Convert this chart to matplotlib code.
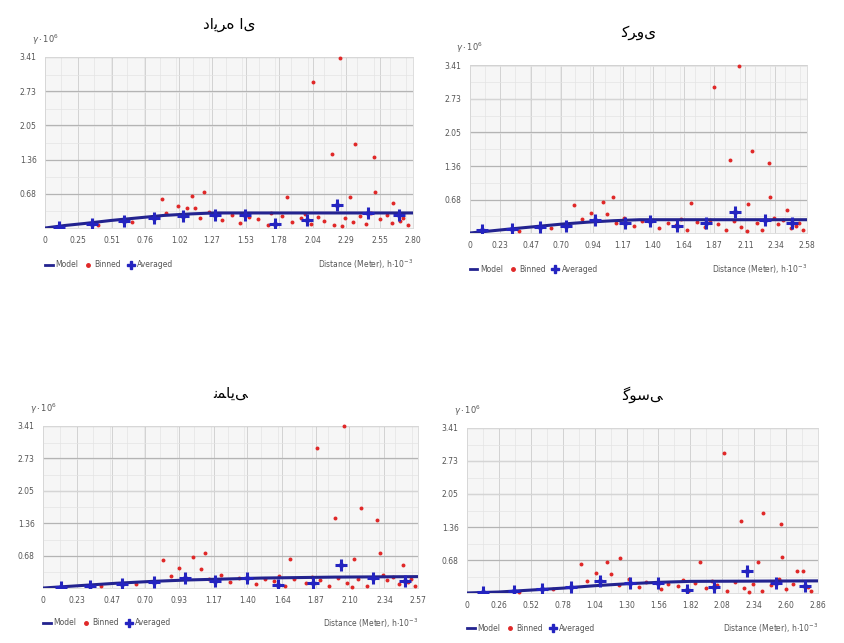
import numpy as np
import matplotlib.pyplot as plt
from matplotlib.lines import Line2D
from matplotlib.ticker import AutoMinorLocator

# titles: Persian, joined presentation forms in logical order
titles = ["\uFEA9\uFE8D\uFEF3\uFEAE\uFEE9 \uFE8D\uFEEF",   # dayere-i
          "\uFEDB\uFEAE\uFEED\uFEEF",                      # korovi
          "\uFEE7\uFEE4\uFE8E\uFEF3\uFEF0",                # nemaei
          "\uFB94\uFEEE\uFEB3\uFEF0"]                      # gausi

y_ticks = [0.68, 1.36, 2.05, 2.73, 3.41]
y_max = 3.41

# --- circular (top left)
tl_xticks = [0, 0.25, 0.51, 0.76, 1.02, 1.27, 1.53, 1.78, 2.04, 2.29, 2.55, 2.80]
tl_model_x = [0, 0.15, 0.3, 0.5, 0.7, 0.9, 1.1, 1.28, 2.80]
tl_model_y = [0, 0.05, 0.09, 0.15, 0.20, 0.25, 0.28, 0.30, 0.30]
tl_avg_x = [0.11, 0.36, 0.60, 0.83, 1.05, 1.29, 1.52, 1.75, 1.99, 2.22, 2.46, 2.69]
tl_avg_y = [0.03, 0.08, 0.13, 0.19, 0.24, 0.26, 0.26, 0.08, 0.16, 0.46, 0.29, 0.26]
tl_bin_x = [2.245, 2.04, 2.18, 2.36, 2.50, 2.51, 2.32, 2.65, 1.84, 0.89, 1.12, 1.21, 1.01,
            1.08, 1.14, 0.40, 0.66, 0.92, 1.18, 1.25, 1.35, 1.42, 1.48, 1.55, 1.62, 1.70,
            1.80, 1.88, 1.95, 2.02, 2.08, 2.12, 2.20, 2.28, 2.34, 2.40, 2.44, 2.55, 2.60,
            2.64, 2.72, 2.76, 1.72, 1.98, 2.26, 2.48, 2.70]
tl_bin_y = [3.39, 2.91, 1.48, 1.67, 1.42, 0.72, 0.62, 0.50, 0.62, 0.58, 0.64, 0.72, 0.44,
            0.40, 0.40, 0.05, 0.12, 0.30, 0.20, 0.32, 0.15, 0.25, 0.10, 0.22, 0.18, 0.06,
            0.24, 0.12, 0.20, 0.08, 0.22, 0.14, 0.06, 0.20, 0.12, 0.24, 0.08, 0.18, 0.26,
            0.10, 0.20, 0.06, 0.30, 0.28, 0.04, 0.30, 0.14]

# --- spherical (top right)
tr_xticks = [0, 0.23, 0.47, 0.70, 0.94, 1.17, 1.40, 1.64, 1.87, 2.11, 2.34, 2.58]
tr_model_x = [0, 0.15, 0.3, 0.5, 0.7, 0.9, 1.1, 1.3, 2.58]
tr_model_y = [0, 0.04, 0.08, 0.13, 0.18, 0.22, 0.25, 0.27, 0.27]
tr_avg_x = [0.09, 0.32, 0.54, 0.74, 0.96, 1.19, 1.38, 1.59, 1.81, 2.03, 2.26, 2.47]
tr_avg_y = [0.06, 0.09, 0.12, 0.14, 0.26, 0.21, 0.24, 0.14, 0.20, 0.43, 0.26, 0.20]
tr_bin_x = [2.06, 1.87, 1.99, 2.16, 2.29, 2.30, 2.13, 1.69, 0.80, 1.02, 1.10, 2.43, 0.93,
            1.05, 0.38, 0.62, 0.86, 1.12, 1.18, 1.26, 1.32, 1.45, 1.52, 1.58, 1.66, 1.74,
            1.80, 1.90, 1.96, 2.02, 2.08, 2.20, 2.24, 2.36, 2.40, 2.46, 2.52, 2.55, 1.62,
            1.84, 2.12, 2.33, 2.50]
tr_bin_y = [3.40, 2.96, 1.48, 1.66, 1.42, 0.73, 0.59, 0.61, 0.57, 0.63, 0.73, 0.47, 0.40,
            0.38, 0.05, 0.10, 0.28, 0.20, 0.30, 0.14, 0.24, 0.10, 0.20, 0.16, 0.06, 0.22,
            0.12, 0.18, 0.06, 0.24, 0.12, 0.20, 0.06, 0.18, 0.26, 0.10, 0.20, 0.06, 0.28,
            0.26, 0.04, 0.30, 0.14]

# --- exponential (bottom left)
bl_xticks = [0, 0.23, 0.47, 0.70, 0.93, 1.17, 1.40, 1.64, 1.87, 2.10, 2.34, 2.57]
bl_model_x = [0, 0.25, 0.5, 0.75, 1.0, 1.25, 1.5, 2.0, 2.57]
bl_model_y = [0, 0.05, 0.10, 0.14, 0.17, 0.19, 0.21, 0.23, 0.24]
bl_avg_x = [0.12, 0.32, 0.54, 0.76, 0.97, 1.18, 1.40, 1.61, 1.85, 2.04, 2.26, 2.48]
bl_avg_y = [0.03, 0.04, 0.08, 0.12, 0.22, 0.15, 0.22, 0.06, 0.10, 0.48, 0.22, 0.15]
bl_bin_x = [2.06, 1.88, 2.00, 2.18, 2.29, 2.31, 2.13, 1.69, 0.82, 1.03, 1.11, 2.47, 0.93,
            1.08, 0.40, 0.64, 0.88, 1.14, 1.22, 1.28, 1.34, 1.46, 1.52, 1.58, 1.66, 1.72,
            1.80, 1.90, 1.96, 2.02, 2.08, 2.16, 2.22, 2.36, 2.40, 2.44, 2.52, 2.55, 1.62,
            1.84, 2.12, 2.33, 2.50]
bl_bin_y = [3.41, 2.95, 1.47, 1.68, 1.43, 0.74, 0.61, 0.61, 0.59, 0.65, 0.74, 0.48, 0.42,
            0.40, 0.04, 0.08, 0.26, 0.18, 0.28, 0.12, 0.22, 0.08, 0.18, 0.14, 0.05, 0.20,
            0.10, 0.16, 0.05, 0.22, 0.10, 0.18, 0.05, 0.16, 0.24, 0.08, 0.18, 0.05, 0.26,
            0.24, 0.03, 0.28, 0.12]

# --- gaussian (bottom right)
br_xticks = [0, 0.26, 0.52, 0.78, 1.04, 1.30, 1.56, 1.82, 2.08, 2.34, 2.60, 2.86]
br_model_x = [0, 0.26, 0.52, 0.78, 1.04, 1.30, 1.56, 1.82, 2.86]
br_model_y = [0, 0.02, 0.06, 0.10, 0.15, 0.19, 0.22, 0.24, 0.25]
br_avg_x = [0.13, 0.38, 0.61, 0.85, 1.08, 1.33, 1.56, 1.79, 2.01, 2.28, 2.52, 2.75]
br_avg_y = [0.01, 0.05, 0.08, 0.13, 0.25, 0.21, 0.20, 0.06, 0.13, 0.46, 0.20, 0.14]
br_bin_x = [2.09, 2.23, 2.41, 2.56, 2.57, 2.37, 1.90, 0.93, 1.14, 1.25, 2.69, 2.74, 1.05,
            1.17, 0.42, 0.70, 0.98, 1.24, 1.32, 1.40, 1.46, 1.58, 1.64, 1.72, 1.80, 1.86,
            1.95, 2.04, 2.12, 2.18, 2.26, 2.33, 2.40, 2.48, 2.52, 2.60, 2.66, 2.80, 1.76,
            2.00, 2.30, 2.54, 2.78]
br_bin_y = [2.90, 1.49, 1.66, 1.43, 0.74, 0.63, 0.63, 0.60, 0.65, 0.72, 0.46, 0.46, 0.41,
            0.40, 0.03, 0.08, 0.24, 0.16, 0.28, 0.12, 0.22, 0.08, 0.18, 0.14, 0.05, 0.20,
            0.10, 0.16, 0.05, 0.22, 0.10, 0.18, 0.05, 0.16, 0.24, 0.08, 0.18, 0.05, 0.26,
            0.24, 0.03, 0.28, 0.12]

panels = [
    (titles[0], [0.0533, 0.6454, 0.4355, 0.266], tl_xticks, tl_model_x, tl_model_y,
     tl_avg_x, tl_avg_y, tl_bin_x, tl_bin_y),
    (titles[1], [0.556, 0.6376, 0.3988, 0.2613], tr_xticks, tr_model_x, tr_model_y,
     tr_avg_x, tr_avg_y, tr_bin_x, tr_bin_y),
    (titles[2], [0.0509, 0.0855, 0.4438, 0.252], bl_xticks, bl_model_x, bl_model_y,
     bl_avg_x, bl_avg_y, bl_bin_x, bl_bin_y),
    (titles[3], [0.5527, 0.0778, 0.4154, 0.2566], br_xticks, br_model_x, br_model_y,
     br_avg_x, br_avg_y, br_bin_x, br_bin_y),
]

red = "#e02828"
blue = "#2424c0"
navy = "#23238f"
txt = "#555555"

fig = plt.figure(figsize=(8.45, 6.43), dpi=100)

for title, rect, xt, mx, my, ax_, ay_, bx, by in panels:
    ax = fig.add_axes(rect)
    ax.set_facecolor("#f6f6f6")
    ax.set_xlim(0, xt[-1])
    ax.set_ylim(0, y_max)
    ax.set_xticks(xt)
    ax.set_xticklabels([("%.2f" % v if v else "0") for v in xt])
    ax.set_yticks(y_ticks)
    ax.set_yticklabels(["%.2f" % v for v in y_ticks])
    ax.xaxis.set_minor_locator(AutoMinorLocator(2))
    ax.yaxis.set_minor_locator(AutoMinorLocator(2))
    ax.tick_params(which="both", length=0, labelsize=5.5, labelcolor=txt, pad=6)
    ax.grid(axis="y", which="major", color="#b4b4b4", lw=0.9)
    ax.grid(axis="x", which="major", color="#d2d2d2", lw=0.7)
    ax.grid(which="minor", color="#e4e4e4", lw=0.5)
    ax.set_axisbelow(True)
    for s in ax.spines.values():
        s.set_color("#d8d8d8")
        s.set_linewidth(0.6)

    ax.scatter(bx, by, s=8, color=red, lw=0, zorder=3, clip_on=False)
    ax.plot(mx, my, color=navy, lw=2.2, zorder=4)
    ax.plot(ax_, ay_, ls="none", marker="+", ms=9, mew=2.2, color=blue, zorder=5)
    ax.plot(ax_, ay_, ls="none", marker="d", ms=4, color=blue, zorder=5)

    ax.set_title(title, fontsize=11, pad=20, family=["DejaVu Sans"])
    ax.text(0.0, 1.06, r"$\gamma\cdot10^{6}$", transform=ax.transAxes,
            fontsize=6, color=txt, ha="center", va="bottom")
    ax.text(1.0, -0.215, r"Distance (Meter), h$\cdot10^{-3}$", transform=ax.transAxes,
            fontsize=5.5, color=txt, ha="right", va="center")
    handles = [Line2D([], [], color=navy, lw=2),
               Line2D([], [], ls="none", marker="o", ms=2.5, color=red),
               Line2D([], [], ls="none", marker="P", ms=6, color=blue)]
    ax.legend(handles, ["Model", "Binned", "Averaged"], loc="center left",
              bbox_to_anchor=(0.0, -0.215), ncol=3, frameon=False, fontsize=5.5,
              handlelength=1.0, handletextpad=0.3, columnspacing=0.8, borderaxespad=0,
              borderpad=0, labelcolor=txt)

fig.savefig("out.png", dpi=100)
